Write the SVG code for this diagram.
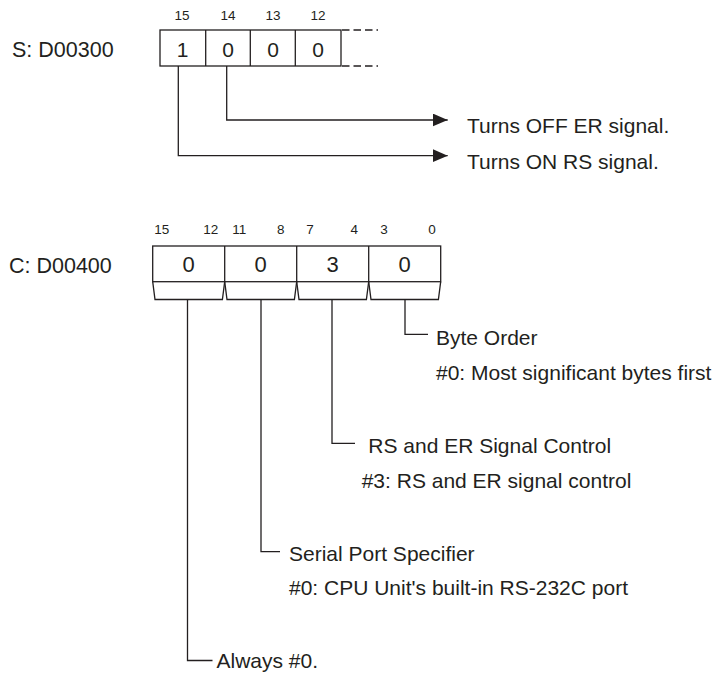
<svg xmlns="http://www.w3.org/2000/svg" width="726" height="673" viewBox="0 0 726 673">
  <style>
    text { font-family: "Liberation Sans", Arial, Helvetica, sans-serif; fill: #231f20; }
    .lbl { font-size: 21px; }
    .reg { font-size: 21.5px; }
    .val { font-size: 21px; text-anchor: middle; }
    .valc { font-size: 22px; text-anchor: middle; }
    .bit { font-size: 13.5px; text-anchor: middle; }
    .box { fill: none; stroke: #231f20; stroke-width: 1.3; }
    .dash { fill: none; stroke: #231f20; stroke-width: 1.3; stroke-dasharray: 7.5 4; }
    .wire { fill: none; stroke: #231f20; stroke-width: 1.3; }
  </style>
  <defs>
    <marker id="arrow" markerUnits="userSpaceOnUse" markerWidth="16" markerHeight="14" refX="15" refY="6.5" orient="auto">
      <path d="M0,0 L15,6.5 L0,13 Z" fill="#231f20"/>
    </marker>
  </defs>
  <rect width="726" height="673" fill="#ffffff"/>

  <!-- Top register S: D00300 -->
  <g id="reg-s">
    <text class="reg" x="12" y="56.5">S: D00300</text>
    <text class="bit" x="182" y="20">15</text>
    <text class="bit" x="228" y="20">14</text>
    <text class="bit" x="273" y="20">13</text>
    <text class="bit" x="318" y="20">12</text>
    <rect class="box" x="160" y="30" width="181" height="36"/>
    <line class="box" x1="205.7" y1="30" x2="205.7" y2="66"/>
    <line class="box" x1="250.3" y1="30" x2="250.3" y2="66"/>
    <line class="box" x1="295.3" y1="30" x2="295.3" y2="66"/>
    <line class="dash" x1="342" y1="30" x2="378" y2="30"/>
    <line class="dash" x1="342" y1="66" x2="378" y2="66"/>
    <text class="val" x="182.5" y="56.5">1</text>
    <text class="val" x="228" y="56.5">0</text>
    <text class="val" x="273" y="56.5">0</text>
    <text class="val" x="318" y="56.5">0</text>
  </g>

  <g id="label-er">
    <text class="lbl" x="467" y="133">Turns OFF ER signal.</text>
  </g>
  <g id="label-rs">
    <text class="lbl" x="467" y="169">Turns ON RS signal.</text>
  </g>

  <!-- Bottom register C: D00400 -->
  <g id="reg-c">
    <text class="reg" x="9" y="272.5">C: D00400</text>
    <text class="bit" x="161.7" y="233.5">15</text>
    <text class="bit" x="210.7" y="233.5">12</text>
    <text class="bit" x="239.3" y="233.5">11</text>
    <text class="bit" x="280.7" y="233.5">8</text>
    <text class="bit" x="310" y="233.5">7</text>
    <text class="bit" x="354.3" y="233.5">4</text>
    <text class="bit" x="384" y="233.5">3</text>
    <text class="bit" x="432" y="233.5">0</text>
    <rect class="box" x="152.7" y="246" width="288" height="35.7"/>
    <line class="box" x1="224.7" y1="246" x2="224.7" y2="281.7"/>
    <line class="box" x1="296.7" y1="246" x2="296.7" y2="281.7"/>
    <line class="box" x1="368.7" y1="246" x2="368.7" y2="281.7"/>
    <text class="valc" x="188.7" y="272">0</text>
    <text class="valc" x="260.7" y="272">0</text>
    <text class="valc" x="332.7" y="272">3</text>
    <text class="valc" x="404.7" y="272">0</text>
    <path class="box" d="M152.7,281.7 L155,299.5 L222.4,299.5 L224.7,281.7"/>
    <path class="box" d="M224.7,281.7 L227,299.5 L294.4,299.5 L296.7,281.7"/>
    <path class="box" d="M296.7,281.7 L299,299.5 L366.4,299.5 L368.7,281.7"/>
    <path class="box" d="M368.7,281.7 L371,299.5 L438.4,299.5 L440.7,281.7"/>
  </g>

  <g id="label-byte">
    <text class="lbl" x="436" y="345">Byte Order</text>
    <text class="lbl" x="436" y="380">#0: Most significant bytes first</text>
  </g>
  <g id="label-rser">
    <text class="lbl" x="368.3" y="452.5">RS and ER Signal Control</text>
    <text class="lbl" x="361.7" y="488">#3: RS and ER signal control</text>
  </g>
  <g id="label-port">
    <text class="lbl" x="289" y="561">Serial Port Specifier</text>
    <text class="lbl" x="289" y="595">#0: CPU Unit's built-in RS-232C port</text>
  </g>
  <g id="label-always">
    <text class="lbl" x="216.5" y="668">Always #0.</text>
  </g>

  <!-- Connectors -->
  <g id="connectors">
    <polyline class="wire" points="226.7,66 226.7,120 447.7,120" marker-end="url(#arrow)"/>
    <polyline class="wire" points="178.3,66 178.3,155.7 447.7,155.7" marker-end="url(#arrow)"/>
    <polyline class="wire" points="405,299.5 405,334.3 428,334.3"/>
    <polyline class="wire" points="332,299.5 332,443.3 355,443.3"/>
    <polyline class="wire" points="261,299.5 261,551.7 280,551.7"/>
    <polyline class="wire" points="187.5,299.5 187.5,660.5 212.5,660.5"/>
  </g>
</svg>
